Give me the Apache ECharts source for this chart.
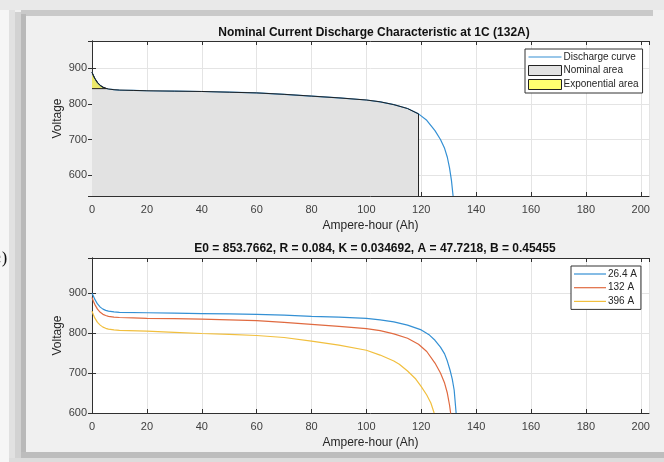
<!DOCTYPE html>
<html>
<head>
<meta charset="utf-8">
<script src="https://cdn.jsdelivr.net/npm/echarts@6/dist/echarts.min.js"></script>
<style>
  html, body { margin: 0; padding: 0; background: #f0f0f0; }
  #chart { width: 664px; height: 462px; }
</style>
</head>
<body>
<div id="chart"></div>
<script>
// discharge at 132 A (1C) -- used in both panels
const ah132 = [0, 0.5, 1, 2, 3, 4, 5, 6, 8, 10, 15, 20, 30, 40, 50, 60, 70, 80, 90, 100, 105, 110, 115, 119, 122, 125, 127, 128.5, 129.5, 130.3, 131, 131.6]
const v132 = [889, 880, 872, 860, 852, 847, 844, 842, 840, 839, 838, 837, 836, 835, 833, 831, 827, 822, 817, 811, 806, 798, 787, 772, 754, 725, 700, 675, 650, 620, 585, 541]

const ah26 = [0, 0.5, 1, 2, 3, 4, 5, 6, 8, 10, 20, 30, 40, 50, 60, 70, 80, 90, 100, 105, 110, 115, 120, 123, 125, 127, 128.5, 129.5, 130.5, 131.3, 132, 132.7]
const v26 = [900, 893, 885, 873, 865, 860, 857, 855, 853, 852, 851, 850, 849, 848, 847, 845, 842, 840, 837, 833, 828, 820, 808, 795, 782, 765, 748, 730, 707, 685, 657, 600]

const ah396 = [0, 0.5, 1, 2, 3, 4, 5, 6, 8, 10, 20, 30, 40, 50, 60, 70, 80, 90, 100, 105, 110, 112, 115, 118, 120, 122, 123.5, 124.7]
const v396 = [855, 846, 838, 827, 820, 815, 812, 810, 808, 807, 805, 802, 799, 797, 794, 789, 780, 770, 757, 745, 730, 722, 705, 685, 666, 645, 625, 600]

const nominalEnd = 119 // Ah
const expEnd = 5.5 // Ah
const expLevel = 843 // V

const topTitle = 'Nominal Current Discharge Characteristic at 1C (132A)'
const bottomTitle = 'E0 = 853.7662, R = 0.084, K = 0.034692, A = 47.7218, B = 0.45455'

const topY = [541, 977]
const bottomY = [600, 988]
const xMax = 203

const pairs = (xs, ys) => xs.map((x, i) => [x, ys[i]])

const curve132 = pairs(ah132, v132)
const nominalData = curve132.filter(p => p[0] <= nominalEnd).concat([[nominalEnd, topY[0]]])
const expData = curve132.filter(p => p[0] <= 5).concat([[expEnd, expLevel]])

const axisColor = '#303030'
const labelColor = '#404040'
const font = 'Liberation Sans, Arial, sans-serif'
const blue = '#3490d4'
const orange = '#e06a40'
const yellow = '#f1bf3e'
// thin bar used as a plain line in the legend
const lineIcon = 'path://M0,0 L32,0 L32,1.2 L0,1.2 Z'

function xAx (gridIndex, top) {
  return {
    type: 'value',
    gridIndex: gridIndex,
    position: top ? 'top' : 'bottom',
    min: 0,
    max: xMax,
    interval: 20,
    name: top ? '' : 'Ampere-hour (Ah)',
    nameLocation: 'middle',
    nameGap: 24,
    nameMoveOverlap: false,
    nameTextStyle: { color: '#262626', fontSize: 12, fontFamily: font },
    axisLine: { show: true, lineStyle: { color: axisColor, width: 1 } },
    axisTick: { show: true, inside: true, length: 4, lineStyle: { color: axisColor } },
    axisLabel: { show: !top, color: labelColor, fontSize: 11, fontFamily: font, margin: 8, showMaxLabel: false },
    splitLine: { show: !top, lineStyle: { color: '#e4e4e4' } }
  }
}

function yAx (gridIndex, right, ext) {
  return {
    type: 'value',
    gridIndex: gridIndex,
    position: right ? 'right' : 'left',
    min: ext[0],
    max: ext[1],
    splitNumber: 4,
    name: right ? '' : 'Voltage',
    nameLocation: 'middle',
    nameGap: 28,
    nameMoveOverlap: false,
    nameTextStyle: { color: '#262626', fontSize: 12, fontFamily: font },
    axisLine: { show: true, lineStyle: { color: axisColor, width: 1 } },
    axisTick: { show: true, inside: true, length: 4, lineStyle: { color: axisColor } },
    axisLabel: { show: !right, color: labelColor, fontSize: 11, fontFamily: font, margin: 5, showMaxLabel: false, showMinLabel: ext[0] % 100 === 0 },
    splitLine: { show: !right, lineStyle: { color: '#e4e4e4' } }
  }
}

const legendBase = {
  orient: 'vertical',
  padding: [3, 4, 3, 3],
  itemWidth: 32,
  itemHeight: 10,
  backgroundColor: '#fff',
  borderColor: '#333',
  borderWidth: 1,
  borderRadius: 0,
  textStyle: { fontSize: 10, color: '#262626', fontFamily: font, padding: [0, 0, 0, -3] }
}

const myChart = echarts.init(document.getElementById('chart'))

const option = {
  backgroundColor: '#f0f0f0',
  animation: false,
  graphic: [
    { type: 'rect', shape: { x: 0, y: 0, width: 664, height: 10 }, style: { fill: '#e9e9e9' } },
    { type: 'rect', shape: { x: 21, y: 10, width: 632, height: 6 }, style: { fill: '#c9c9c9' } },
    { type: 'rect', shape: { x: 0, y: 10, width: 9, height: 452 }, style: { fill: '#f6f6f6' } },
    { type: 'rect', shape: { x: 9, y: 10, width: 6, height: 450 }, style: { fill: '#e1e1e1' } },
    { type: 'rect', shape: { x: 15, y: 12, width: 6, height: 446 }, style: { fill: '#d2d2d2' } },
    { type: 'rect', shape: { x: 21, y: 14, width: 5, height: 440 }, style: { fill: '#b9b9b9' } },
    { type: 'rect', shape: { x: 21, y: 452, width: 643, height: 6 }, style: { fill: '#bdbdbd' } },
    { type: 'rect', shape: { x: 9, y: 458, width: 655, height: 4 }, style: { fill: '#dcdcdc' } },
    { type: 'text', left: -15, top: 251, style: { text: '(c)', fill: '#111', font: '17px "DejaVu Serif", serif' } }
  ],
  title: [
    {
      text: topTitle,
      left: 369,
      top: 22,
      textAlign: 'center',
      textStyle: { fontSize: 12, fontWeight: 'bold', color: '#111', fontFamily: font }
    },
    {
      text: bottomTitle,
      left: 370,
      top: 238,
      textAlign: 'center',
      textStyle: { fontSize: 12, fontWeight: 'bold', color: '#111', fontFamily: font }
    }
  ],
  legend: [
    Object.assign({}, legendBase, {
      left: 525,
      top: 49,
      itemGap: 3,
      itemWidth: 33,
      data: [
        { name: 'Discharge curve', icon: lineIcon, itemStyle: { color: blue } },
        { name: 'Nominal area', icon: 'rect', itemStyle: { color: '#e2e2e2', borderColor: '#222', borderWidth: 1 } },
        { name: 'Exponential area', icon: 'rect', itemStyle: { color: '#ffff70', borderColor: '#222', borderWidth: 1 } }
      ]
    }),
    Object.assign({}, legendBase, {
      left: 571,
      top: 266,
      itemGap: 3.7,
      data: [
        { name: '26.4 A', icon: lineIcon, itemStyle: { color: blue } },
        { name: '132 A', icon: lineIcon, itemStyle: { color: orange } },
        { name: '396 A', icon: lineIcon, itemStyle: { color: yellow } }
      ]
    })
  ],
  grid: [
    { left: 92, top: 41, width: 557, height: 155, show: true, backgroundColor: '#fff', borderWidth: 0 },
    { left: 92, top: 258, width: 557, height: 155, show: true, backgroundColor: '#fff', borderWidth: 0 }
  ],
  xAxis: [xAx(0, false), xAx(0, true), xAx(1, false), xAx(1, true)],
  yAxis: [yAx(0, false, topY), yAx(0, true, topY), yAx(1, false, bottomY), yAx(1, true, bottomY)],
  series: [
    {
      name: 'Discharge curve',
      type: 'line',
      xAxisIndex: 0,
      yAxisIndex: 0,
      symbol: 'none',
      data: curve132,
      lineStyle: { color: blue, width: 1.2 },
      itemStyle: { color: blue }
    },
    {
      name: 'Nominal area',
      type: 'line',
      xAxisIndex: 0,
      yAxisIndex: 0,
      symbol: 'none',
      data: nominalData,
      lineStyle: { color: '#222', width: 1 },
      itemStyle: { color: '#e2e2e2' },
      areaStyle: { color: '#e2e2e2', opacity: 1, origin: 'start' }
    },
    {
      name: 'Exponential area',
      type: 'line',
      xAxisIndex: 0,
      yAxisIndex: 0,
      symbol: 'none',
      data: expData,
      lineStyle: { color: '#222', width: 1 },
      itemStyle: { color: '#ffff70' },
      areaStyle: { color: '#ece86a', opacity: 1, origin: expLevel }
    },
    {
      type: 'line',
      xAxisIndex: 0,
      yAxisIndex: 0,
      symbol: 'none',
      data: [[0, expLevel], [expEnd, expLevel]],
      lineStyle: { color: '#222', width: 1 }
    },
    {
      name: '26.4 A',
      type: 'line',
      xAxisIndex: 2,
      yAxisIndex: 2,
      symbol: 'none',
      data: pairs(ah26, v26),
      lineStyle: { color: blue, width: 1.2 },
      itemStyle: { color: blue }
    },
    {
      name: '132 A',
      type: 'line',
      xAxisIndex: 2,
      yAxisIndex: 2,
      symbol: 'none',
      data: curve132,
      lineStyle: { color: orange, width: 1.2 },
      itemStyle: { color: orange }
    },
    {
      name: '396 A',
      type: 'line',
      xAxisIndex: 2,
      yAxisIndex: 2,
      symbol: 'none',
      data: pairs(ah396, v396),
      lineStyle: { color: yellow, width: 1.2 },
      itemStyle: { color: yellow }
    }
  ]
}

myChart.setOption(option)
window.addEventListener('resize', () => {
  myChart.resize()
})
</script>
</body>
</html>
